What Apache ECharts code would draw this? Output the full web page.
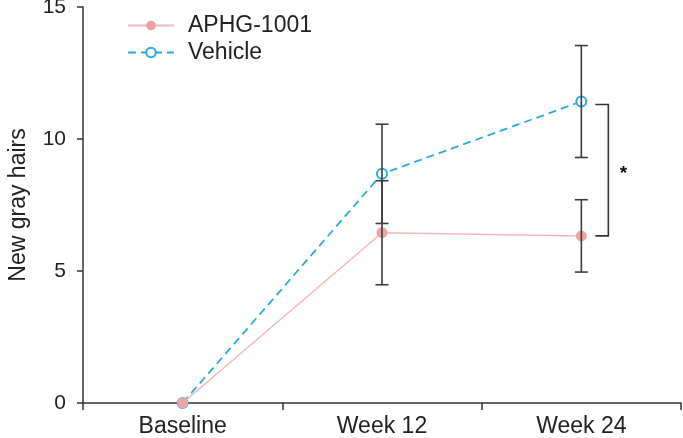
<!DOCTYPE html>
<html>
<head>
<meta charset="utf-8">
<script src="https://cdn.jsdelivr.net/npm/echarts@6/dist/echarts.min.js"></script>
<style>
html, body { margin: 0; padding: 0; background: #fff; }
#chart1 { width: 683px; height: 438px; }
</style>
</head>
<body>
<div id="chart1"></div>
<script>
// data
var categories = ['Baseline', 'Week 12', 'Week 24'];
var aphg = [0, 6.45, 6.33];
var aphgErr = [0, 1.97, 1.37];
var vehicle = [0, 8.68, 11.42];
var vehicleErr = [0, 1.88, 2.12];
var yTicks = [0, 5, 10, 15];
var starLabel = '*';

var font = 'Liberation Sans, Arial, sans-serif';
var pink = '#efa4a4';
var blue = '#2aaae2';

function errData(vals, errs) {
    var out = [];
    for (var i = 0; i < vals.length; i++) {
        if (errs[i] > 0) out.push([i, vals[i] - errs[i], vals[i] + errs[i]]);
    }
    return out;
}

function renderErr(params, api) {
    var x = api.value(0);
    var lo = api.coord([x, api.value(1)]);
    var hi = api.coord([x, api.value(2)]);
    var w = 6.5;
    var style = {stroke: '#3c3c3c', lineWidth: 1.6};
    return {
        type: 'group',
        children: [
            {type: 'line', shape: {x1: lo[0], y1: lo[1], x2: hi[0], y2: hi[1]}, style: style},
            {type: 'line', shape: {x1: lo[0] - w, y1: lo[1], x2: lo[0] + w, y2: lo[1]}, style: style},
            {type: 'line', shape: {x1: hi[0] - w, y1: hi[1], x2: hi[0] + w, y2: hi[1]}, style: style}
        ]
    };
}

function renderBracket(params, api) {
    var x = api.value(0);
    var p1 = api.coord([x, api.value(1)]);
    var p2 = api.coord([x, api.value(2)]);
    var x1 = p1[0] + 14, x2 = p1[0] + 27;
    return {
        type: 'group',
        children: [
            {
                type: 'polyline',
                shape: {points: [[x1, p1[1] + 3], [x2, p1[1] + 3], [x2, p2[1]], [x1, p2[1]]]},
                style: {stroke: '#333', lineWidth: 1.6, fill: null}
            },
            {
                type: 'text',
                x: x2 + 15, y: (p1[1] + p2[1]) / 2 + 5,
                style: {text: starLabel, fill: '#111', font: 'bold 19px ' + font, align: 'center', verticalAlign: 'middle'}
            }
        ]
    };
}

var chartDom = document.getElementById('chart1');
var myChart = echarts.init(chartDom);
var option;

option = {
    animation: false,
    textStyle: {fontFamily: font},
    grid: {left: 83, right: 2, top: 7, bottom: 35, outerBoundsMode: 'none', containLabel: false},
    legend: {
        orient: 'vertical',
        left: 122,
        top: 9,
        itemWidth: 46,
        itemHeight: 12,
        itemGap: 4,
        data: ['APHG-1001', 'Vehicle'],
        textStyle: {fontSize: 23, color: '#222', fontFamily: font, padding: [0, 0, 0, 9]}
    },
    xAxis: {
        type: 'category',
        data: categories,
        boundaryGap: true,
        axisLine: {lineStyle: {color: '#333', width: 1.5}},
        axisTick: {show: true, length: 7, lineStyle: {color: '#333', width: 1.5}},
        axisLabel: {fontSize: 23, color: '#222', margin: 12, fontFamily: font},
        splitLine: {show: false}
    },
    yAxis: {
        type: 'value',
        min: yTicks[0],
        max: yTicks[yTicks.length - 1],
        interval: yTicks[1] - yTicks[0],
        name: 'New gray hairs',
        nameLocation: 'middle',
        nameGap: 53,
        nameTextStyle: {fontSize: 23, color: '#222', fontFamily: font},
        axisLine: {show: true, lineStyle: {color: '#333', width: 1.5}},
        axisTick: {show: true, length: 6, lineStyle: {color: '#333', width: 1.5}},
        axisLabel: {fontSize: 21, color: '#222', margin: 17, fontFamily: font},
        splitLine: {show: false}
    },
    series: [
        {
            name: 'Vehicle',
            type: 'line',
            data: vehicle,
            symbol: 'emptyCircle',
            symbolSize: 10,
            z: 2,
            lineStyle: {color: blue, width: 1.8, type: [8, 5]},
            itemStyle: {color: blue, borderWidth: 1.8}
        },
        {
            name: 'APHG-1001',
            type: 'line',
            data: aphg,
            symbol: 'circle',
            symbolSize: 11,
            z: 3,
            lineStyle: {color: '#f5b8b8', width: 1.5},
            itemStyle: {color: pink}
        },
        {
            type: 'custom',
            renderItem: renderErr,
            data: errData(vehicle, vehicleErr),
            z: 4,
            silent: true
        },
        {
            type: 'custom',
            renderItem: renderErr,
            data: errData(aphg, aphgErr),
            z: 4,
            silent: true
        },
        {
            type: 'custom',
            renderItem: renderBracket,
            data: [[2, vehicle[2], aphg[2]]],
            z: 4,
            silent: true
        }
    ]
};

option && myChart.setOption(option);
</script>
</body>
</html>
